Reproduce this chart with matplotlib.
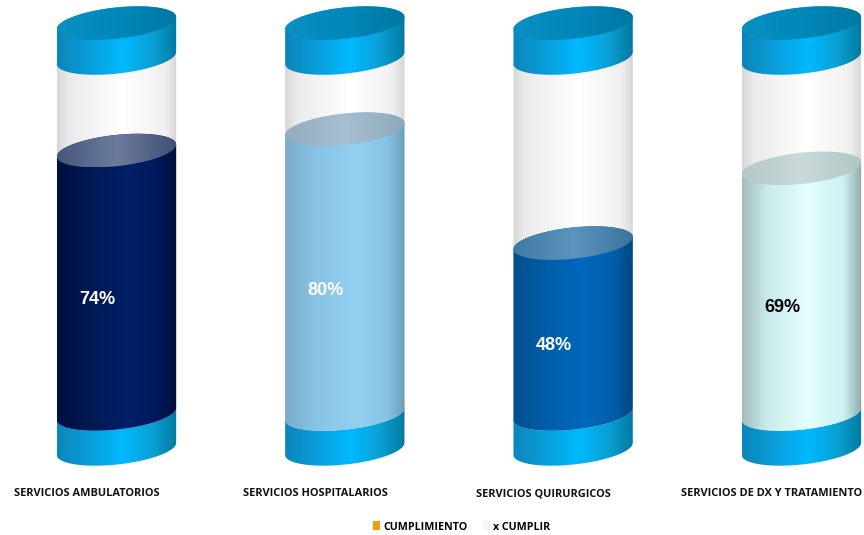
import numpy as np
import matplotlib
matplotlib.use("Agg")
import matplotlib.pyplot as plt
from matplotlib.colors import LinearSegmentedColormap
from matplotlib.patches import Patch, PathPatch
from matplotlib.path import Path

categories = ["SERVICIOS AMBULATORIOS", "SERVICIOS HOSPITALARIOS",
              "SERVICIOS QUIRURGICOS", "SERVICIOS DE DX Y TRATAMIENTO"]
cumplimiento = [74, 80, 48, 69]
por_cumplir = [26, 20, 52, 31]
value_labels = ["74%", "80%", "48%", "69%"]
label_heights = [32.3, 34.8, 19.1, 29.8]
label_colors = ["white", "white", "white", "black"]

# Horizontal shading of each tube part, as (position, colour) stops
body_shades = [
    [(0, "#00103f"), (0.3, "#001a58"), (0.6, "#001f66"), (0.85, "#00185a"), (1, "#000e38")],
    [(0, "#7aaccb"), (0.25, "#88c3e5"), (0.6, "#92d0f2"), (0.85, "#88c3e5"), (1, "#6f9db9")],
    [(0, "#004f8c"), (0.3, "#005fac"), (0.6, "#0068bd"), (0.85, "#005ea9"), (1, "#00477f")],
    [(0, "#a3baba"), (0.2, "#c8eaea"), (0.55, "#e4ffff"), (0.85, "#ccf0f0"), (1, "#8fa8a8")],
]
face_shades = [
    [(0, "#46587e"), (0.5, "#6c7b9c"), (1, "#3f4f75")],
    [(0, "#92adbf"), (0.5, "#a6c0d2"), (1, "#8fa9bb")],
    [(0, "#3f7aa5"), (0.5, "#5b95bd"), (1, "#3a739c")],
    [(0, "#b4c6c6"), (0.5, "#cadada"), (1, "#b2c4c4")],
]
glass_shade = [(0, "#d6d6d6"), (0.1, "#ebebeb"), (0.55, "#ffffff"), (0.9, "#f0f0f0"), (1, "#d6d6d6")]
collar_shade = [(0, "#0b86bb"), (0.25, "#0a9cd8"), (0.55, "#00b9ff"), (0.8, "#0a9fd4"), (1, "#007ba0")]
cap_shade = [(0, "#0a8fc2"), (0.5, "#0088ba"), (1, "#0077a3")]

COL_HALF_WIDTH = 0.2613
TILT = 1.7
DEPTH = 4.4
FLOOR, CEILING = 0, 100
COLLAR = 9.8

fig = plt.figure(figsize=(8.64, 5.35), dpi=100)
ax = fig.add_axes([0, 0, 1, 1])
ax.axis("off")
XLIM = (-0.5102, 3.2740)
YLIM = (-33.99, 116.29)


def arc(x, level, start, stop):
    t = np.linspace(start, stop, 80)
    return (x + COL_HALF_WIDTH * np.cos(t),
            level + TILT * np.cos(t) + DEPTH * np.sin(t))


def shaded(x, vertices_x, vertices_y, stops, alpha=1.0, z=1):
    """Fill a closed outline with a left-to-right gradient."""
    cmap = LinearSegmentedColormap.from_list("shade", stops)
    verts = np.column_stack([np.r_[vertices_x, vertices_x[0]],
                             np.r_[vertices_y, vertices_y[0]]])
    outline = PathPatch(Path(verts, closed=True), transform=ax.transData,
                        facecolor="none", edgecolor="none")
    ax.add_patch(outline)
    img = ax.imshow(np.linspace(0, 1, 256)[None, :], cmap=cmap, aspect="auto",
                    extent=(x - COL_HALF_WIDTH, x + COL_HALF_WIDTH,
                            verts[:, 1].min(), verts[:, 1].max()),
                    origin="lower", alpha=alpha, zorder=z, interpolation="bilinear")
    img.set_clip_path(outline)


def tube_section(x, low, high, stops, z):
    fx, fy = arc(x, low, np.pi, 2 * np.pi)
    bx, by = arc(x, high, 0, np.pi)
    shaded(x, np.r_[fx, bx], np.r_[fy, by], stops, z=z)


def ellipse_face(x, level, stops, z):
    ex, ey = arc(x, level, 0, 2 * np.pi)
    shaded(x, ex, ey, stops, z=z)


for i, (done, pending) in enumerate(zip(cumplimiento, por_cumplir)):
    tube_section(i, FLOOR - COLLAR, FLOOR, collar_shade, 1)
    tube_section(i, FLOOR, done + pending, glass_shade, 2)
    tube_section(i, FLOOR, done, body_shades[i], 3)
    ellipse_face(i, done, face_shades[i], 4)
    tube_section(i, CEILING, CEILING + COLLAR, collar_shade, 5)
    ellipse_face(i, CEILING + COLLAR, cap_shade, 6)
    ax.text(i - 0.085, label_heights[i], value_labels[i], color=label_colors[i],
            ha="center", va="center", fontsize=13, fontweight="bold",
            family="Liberation Sans", zorder=8)
    ax.text(i - 0.13, -22.4, categories[i], ha="center", va="center",
            fontsize=7.95, fontweight="bold", family="Open Sans", color="#111111", zorder=8)

handles = [Patch(facecolor="#f79a0e", label="CUMPLIMIENTO"),
           Patch(facecolor="#f4f4f4", label="x CUMPLIR")]
ax.legend(handles=handles, loc="center", bbox_to_anchor=(0.5345, 0.0150), ncol=2, frameon=False,
          prop={"family": "Open Sans", "weight": "bold", "size": 7.7},
          handlelength=0.65, handleheight=0.9, handletextpad=0.3, columnspacing=1.4)

ax.set_xlim(*XLIM)
ax.set_ylim(*YLIM)
fig.savefig("out.png", dpi=100, facecolor="white")
